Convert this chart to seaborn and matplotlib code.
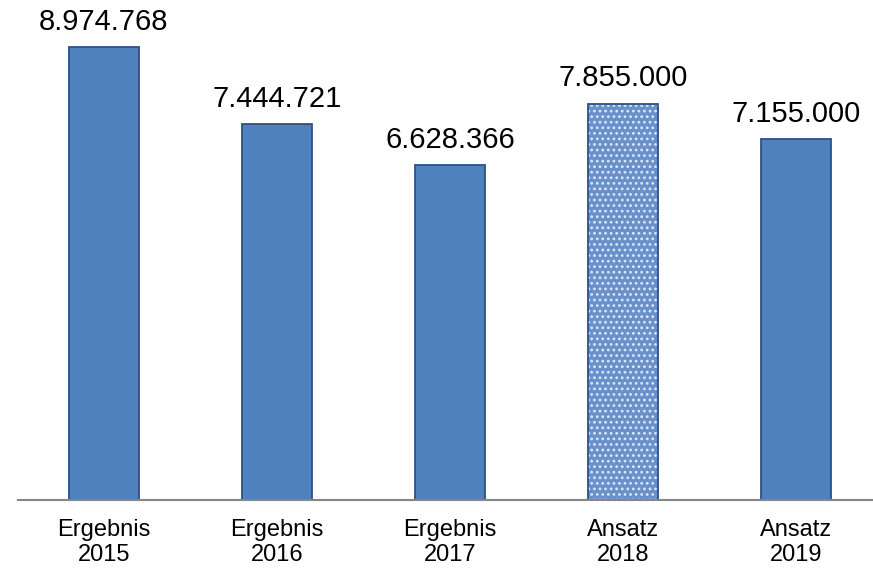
import matplotlib
matplotlib.use("Agg")
import matplotlib.pyplot as plt
from matplotlib.patches import Rectangle
import seaborn as sns
import pandas as pd

categories = ["Ergebnis\n2015", "Ergebnis\n2016", "Ergebnis\n2017", "Ansatz\n2018", "Ansatz\n2019"]
values = [8974768, 7444721, 6628366, 7855000, 7155000]
labels = ["8.974.768", "7.444.721", "6.628.366", "7.855.000", "7.155.000"]

sns.set_theme(style="white")
plt.rcParams["font.family"] = ["Liberation Sans", "DejaVu Sans"]
plt.rcParams["hatch.linewidth"] = 1.2

df = pd.DataFrame({"cat": categories, "val": values})

fig = plt.figure(figsize=(8.73, 5.68), dpi=100)
ax = fig.add_axes([17.5 / 873, 68 / 568, 1 - 17.5 / 873, 500 / 568])

sns.barplot(data=df, x="cat", y="val", ax=ax, color="#4F81BD", saturation=1,
            width=0.405, edgecolor="#2A5286", linewidth=1.3)

# hatched "Ansatz 2018" bar
p = ax.patches[3]
p.set_facecolor("#6890CA")
p.set_edgecolor("#DCE6F4")
p.set_hatch("...")
p.set_linewidth(0)
outline = Rectangle(p.get_xy(), p.get_width(), p.get_height(), fill=False,
                    edgecolor="#2A5286", linewidth=1.3, zorder=p.get_zorder() + 0.1)
ax.add_patch(outline)

for i, (v, lab) in enumerate(zip(values, labels)):
    ax.annotate(lab, xy=(i, v), xytext=(0, 8), textcoords="offset points",
                ha="center", va="bottom", fontsize=21, color="#000000")

ax.set_xlim(-0.5, (873 - 104) / 173)
ax.set_ylim(0, 500 / 453 * 8974768)
ax.set_xlabel("")
ax.set_ylabel("")
ax.set_yticks([])
ax.tick_params(axis="x", length=0, pad=14, labelsize=17, colors="#000000")
for t in ax.get_xticklabels():
    t.set_linespacing(1.15)
for s in ["top", "right", "left"]:
    ax.spines[s].set_visible(False)
ax.spines["bottom"].set_color("#868686")
ax.spines["bottom"].set_linewidth(1.5)

fig.savefig("out.png", dpi=100)
